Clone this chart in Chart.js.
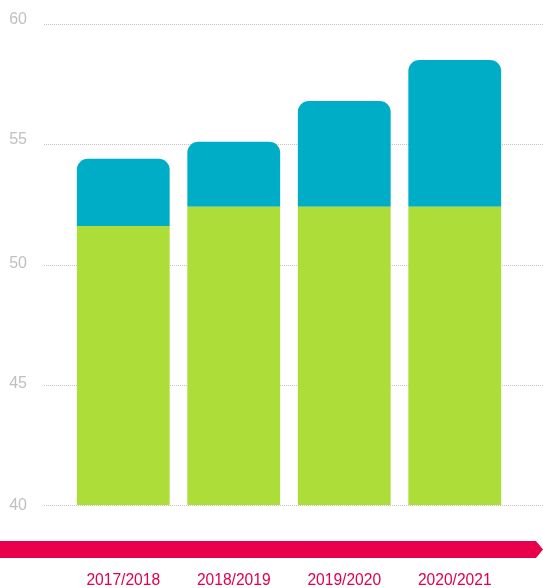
<!DOCTYPE html>
<html>
<head>
<meta charset="utf-8">
<script src="https://cdn.jsdelivr.net/npm/chart.js@4"></script>
<style>
  html, body { margin: 0; padding: 0; background: #fff; }
  #wrap { width: 543px; height: 588px; }
</style>
</head>
<body>
<div id="wrap"><canvas id="chart" width="543" height="588"></canvas></div>
<script>
const seasons = ['2017/2018', '2018/2019', '2019/2020', '2020/2021'];
const baseValues = [51.6, 52.4, 52.4, 52.4];
const extraValues = [2.8, 2.7, 4.4, 6.1];
const yTicks = [40, 45, 50, 55, 60];

const GREEN = '#addd38';
const TEAL = '#00adc7';
const RED = '#e8004c';

// gridlines, y labels, arrow band and season labels
const decorations = {
  id: 'decorations',
  beforeDatasetsDraw(chart) {
    const { ctx, scales: { y } } = chart;
    ctx.save();
    ctx.strokeStyle = '#c4c4c4';
    ctx.lineWidth = 1;
    ctx.setLineDash([1, 1]);
    ctx.font = '16px "Liberation Sans", Arial, sans-serif';
    ctx.fillStyle = '#c0c0c0';
    ctx.textAlign = 'right';
    ctx.textBaseline = 'middle';
    yTicks.forEach(v => {
      const py = Math.round(y.getPixelForValue(v)) + 0.5;
      ctx.beginPath();
      ctx.moveTo(44, py);
      ctx.lineTo(543, py);
      ctx.stroke();
      const lift = v > 50 ? 5 : (v > 40 ? 1.5 : 0);
      ctx.fillText(String(v), 27, py - lift);
    });
    ctx.restore();
  },
  afterDraw(chart) {
    const { ctx, scales: { x } } = chart;
    ctx.save();
    // arrow band
    ctx.fillStyle = RED;
    ctx.beginPath();
    ctx.moveTo(0, 541);
    ctx.lineTo(536, 541);
    ctx.lineTo(543, 549.5);
    ctx.lineTo(536, 558);
    ctx.lineTo(0, 558);
    ctx.closePath();
    ctx.fill();
    // season labels
    ctx.font = '15.6px "Liberation Sans", Arial, sans-serif';
    ctx.fillStyle = '#e0004d';
    ctx.textAlign = 'center';
    ctx.textBaseline = 'middle';
    seasons.forEach((s, i) => {
      ctx.fillText(s, x.getPixelForValue(i), 581);
    });
    ctx.restore();
  }
};

new Chart(document.getElementById('chart'), {
  type: 'bar',
  data: {
    labels: seasons,
    datasets: [
      {
        data: baseValues,
        backgroundColor: GREEN,
        borderSkipped: false,
        borderRadius: 0
      },
      {
        data: extraValues,
        backgroundColor: TEAL,
        borderRadius: { topLeft: 11, topRight: 11, bottomLeft: 0, bottomRight: 0 },
        borderSkipped: false
      }
    ]
  },
  options: {
    responsive: false,
    animation: false,
    layout: { padding: { left: 68, right: 33, top: 24, bottom: 83 } },
    datasets: { bar: { barPercentage: 0.84, categoryPercentage: 1 } },
    scales: {
      x: { stacked: true, display: false },
      y: { stacked: true, display: false, min: 40, max: 60 }
    },
    plugins: {
      legend: { display: false },
      tooltip: { enabled: false }
    }
  },
  plugins: [decorations]
});
</script>
</body>
</html>
